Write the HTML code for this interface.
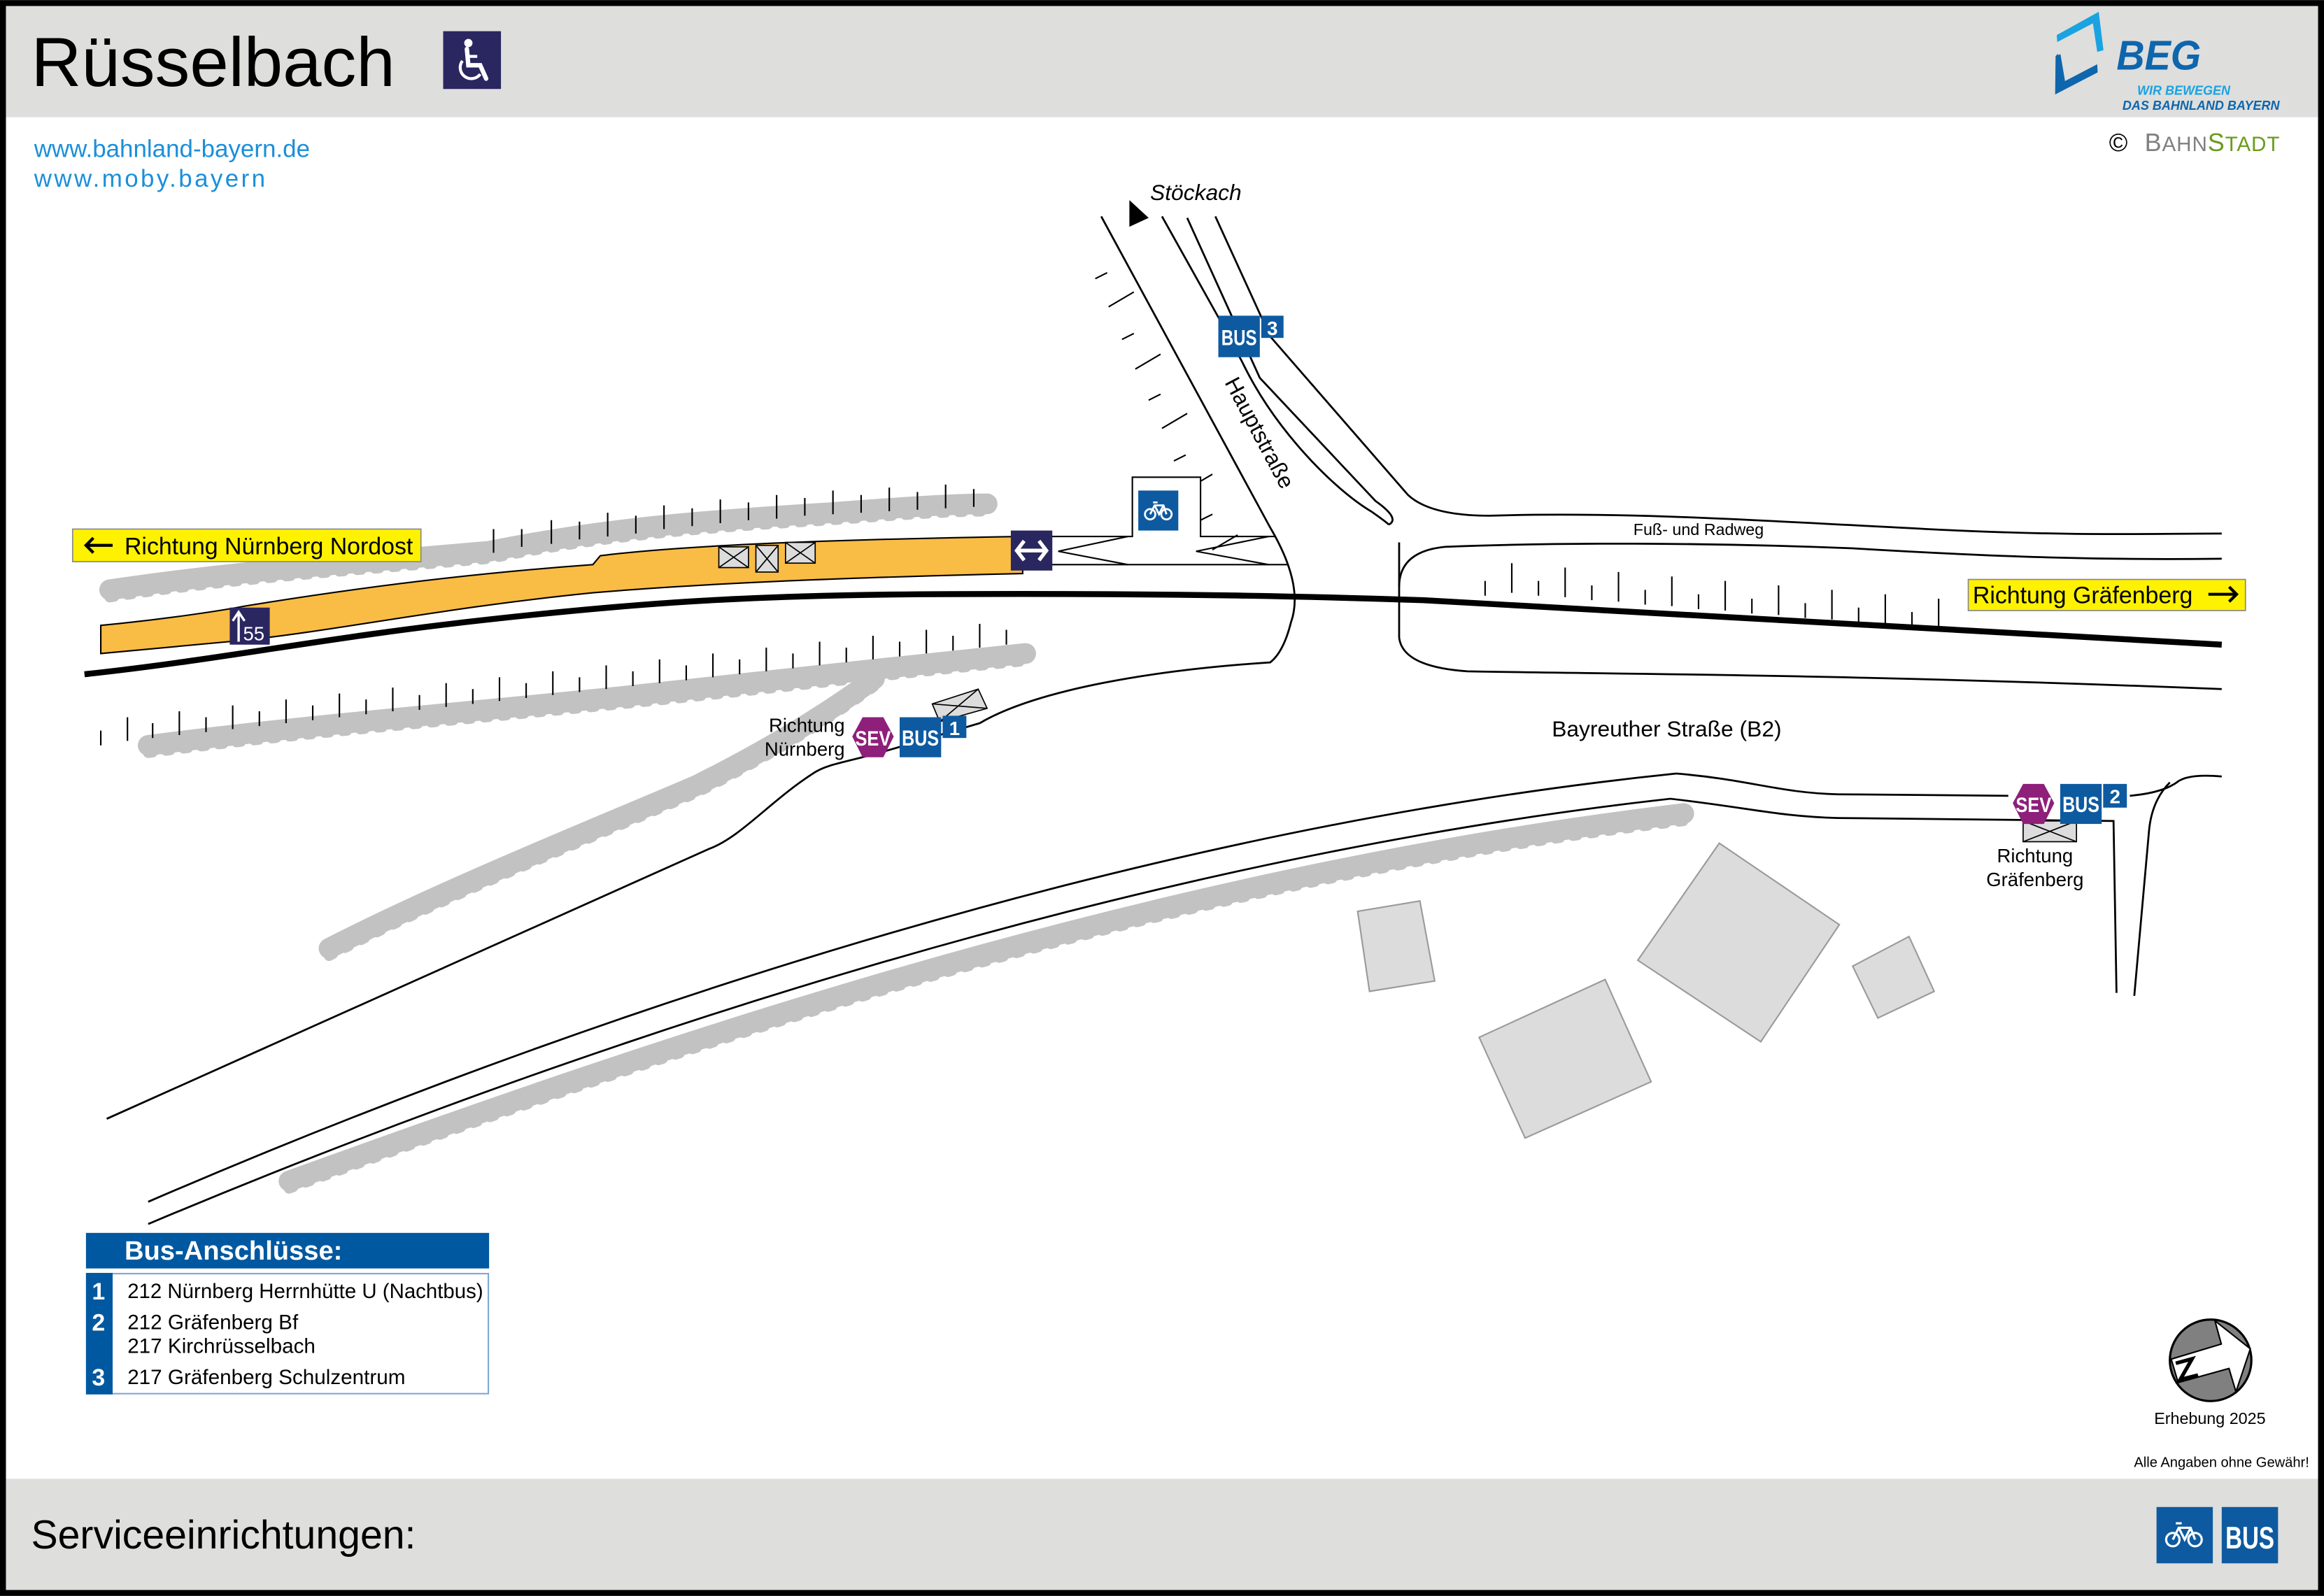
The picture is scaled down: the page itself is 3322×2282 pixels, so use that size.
<!DOCTYPE html>
<html><head><meta charset="utf-8">
<style>
html,body{margin:0;padding:0;background:#fff;}
svg{display:block;}
text{font-family:"Liberation Sans",Arial,sans-serif;}
</style></head>
<body>
<svg width="3322" height="2282" viewBox="0 0 1568 1077" xmlns="http://www.w3.org/2000/svg">
<rect x="0" y="0" width="1568" height="1077" fill="#fff"/>
<rect x="4" y="4" width="1560" height="75" fill="#dededd"/>
<rect x="4" y="998" width="1560" height="75" fill="#dededd"/>
<rect x="2" y="2" width="1564" height="1073" fill="none" stroke="#000" stroke-width="4"/>

<text x="21" y="58" font-size="47" fill="#000">Rüsselbach</text>
<rect x="299" y="21" width="39" height="39" fill="#2a2660"/>
<g fill="#fff" stroke="#fff">
<circle cx="316" cy="29" r="2.8" stroke="none"/>
<path d="M315 33 L316 44 L324 44 L328 53" fill="none" stroke-width="3" stroke-linecap="round"/>
<path d="M312 41 A7.5 7.5 0 1 0 324 50" fill="none" stroke-width="2"/>
<path d="M316 38 L322 38" stroke-width="2"/>
</g>
<text x="23" y="106" font-size="16.5" fill="#1b8fd9">www.bahnland-bayern.de</text>
<text x="23" y="126" font-size="16.5" fill="#1b8fd9" letter-spacing="1.6">www.moby.bayern</text>

<!-- BEG logo -->
<polygon points="1387.7,23.6 1416,7.9 1419.2,33.8 1415,35 1412.1,15.7 1388,28.3" fill="#1aa3e0"/>
<polygon points="1386.9,37.8 1388.5,36.2 1390.9,55.9 1415,43.3 1415.3,48.8 1386.6,63.7" fill="#0e66ad"/>
<polygon points="1386.9,37.8 1390.2,36.5 1393.5,56 1390.9,57" fill="#0e66ad"/>
<text x="1428" y="47" font-size="28" font-weight="bold" font-style="italic" fill="#0e66ad" textLength="57" lengthAdjust="spacingAndGlyphs">BEG</text>
<text x="1442" y="64" font-size="8.5" font-weight="bold" font-style="italic" fill="#1aa3e0">WIR BEWEGEN</text>
<text x="1432" y="74" font-size="8.5" font-weight="bold" font-style="italic" fill="#0e66ad">DAS BAHNLAND BAYERN</text>
<text x="1423" y="102" font-size="17" fill="#000">©</text>
<text x="1447" y="102" font-size="17" fill="#808080" textLength="91" lengthAdjust="spacing">B<tspan font-size="14">AHN</tspan><tspan fill="#6a9b1c" font-size="17">S</tspan><tspan fill="#6a9b1c" font-size="14">TADT</tspan></text>

<!-- trees -->
<g fill="none" stroke="#c2c2c2" stroke-width="14" stroke-linecap="round" stroke-linejoin="round">
<path d="M74 398 C160 385 240 380 330 372 C400 358 460 352 560 346 C600 343 640 340 666 340"/>
<path d="M100 503 C200 490 300 482 420 470 C520 460 600 450 692 441"/>
<path d="M222 640 C300 600 400 560 470 530 C520 505 560 480 590 458"/>
<path d="M195 797 C420 716 760 594 1136 549"/>
</g>
<g fill="none" stroke="#c2c2c2" stroke-width="7" stroke-linecap="round" stroke-dasharray="3 9" transform="translate(0,5)">
<path d="M74 398 C160 385 240 380 330 372 C400 358 460 352 560 346 C600 343 640 340 666 340"/>
<path d="M100 503 C200 490 300 482 420 470 C520 460 600 450 692 441"/>
<path d="M222 640 C300 600 400 560 470 530 C520 505 560 480 590 458"/>
<path d="M195 797 C420 716 760 594 1136 549"/>
</g>

<!-- tick marks -->
<g stroke="#000" stroke-width="1">
<path d="M333 373 v-16 M352 369 v-12 M372 367 v-16 M391 364 v-12 M410 362 v-16 M429 360 v-12 M448 357 v-16 M467 355 v-12 M486 353 v-16 M505 351 v-12 M524 350 v-16 M543 348 v-12 M562 347 v-16 M581 346 v-12 M600 345 v-16 M619 344 v-12 M638 343 v-16 M657 342 v-12"/>
<path d="M68 503 v-10 M86 500 v-16 M103 498 v-10 M121 496 v-16 M139 494 v-10 M157 492 v-16 M175 490 v-10 M193 488 v-16 M211 486 v-10 M229 484 v-16 M247 482 v-10 M265 480 v-16 M283 479 v-10 M301 477 v-16 M319 475 v-10 M337 473 v-16 M355 471 v-10 M373 469 v-16 M391 467 v-10 M409 465 v-16 M427 463 v-10 M445 461 v-16 M463 459 v-10 M481 457 v-16 M499 455 v-10 M517 453 v-16 M535 451 v-10 M553 449 v-16 M571 447 v-10 M589 445 v-16 M607 443 v-10 M625 441 v-16 M643 439 v-10 M661 437 v-16 M679 435 v-10"/>
<path d="M1002 402 v-10 M1020 400 v-20 M1038 402 v-10 M1056 403 v-20 M1074 405 v-10 M1092 406 v-20 M1110 408 v-10 M1128 409 v-20 M1146 411 v-10 M1164 412 v-20 M1182 414 v-10 M1200 415 v-20 M1218 417 v-10 M1236 418 v-20 M1254 420 v-10 M1272 421 v-20 M1290 423 v-10 M1308 424 v-20"/>
<path d="M739 188 l8 -4 M748 207 l17 -10 M757 229 l8 -4 M766 249 l17 -10 M775 270 l8 -4 M784 289 l17 -10 M792 311 l8 -4 M801 330 l17 -10 M810 351 l8 -4 M818 371 l17 -10"/>
</g>

<!-- roads -->
<g fill="none" stroke="#000" stroke-width="1.3">
<path d="M743 146 L857 356 Q880 395 871 420 Q866 440 857 447 C780 452 700 465 661 488 L607 504 C570 515 560 515 550 521 C520 540 500 565 478 573 L72 755"/>
<path d="M784 146 L822 214 L838 244 C860 290 900 330 925 345 Q935 352 937 354"/>
<path d="M801 147 L850 255 L928 338 Q945 350 937 354"/>
<path d="M820 146 L857 227 L950 334 Q965 348 1005 348 C1100 345 1200 352 1300 357 C1400 362 1450 360 1499 360"/>
<path d="M944 366 Q944 380 944 390 L944 430 Q946 450 990 453 C1100 455 1250 455 1499 465"/>
<path d="M944 396 Q944 372 975 369 C1050 366 1150 366 1250 370 C1350 376 1420 378 1499 377"/>
<path d="M100 811 C380 690 760 560 1131 522 C1180 526 1200 535 1240 536 L1355 537 M1437 537 Q1460 535 1470 527 Q1478 522 1499 524"/>
<path d="M100 826 C380 708 760 580 1127 539 C1180 545 1200 551 1240 552 L1426 554 L1428 670"/>
<path d="M1464 528 Q1452 540 1450 560 L1440 672"/>
</g>

<!-- buildings -->
<g fill="#dcdcdc" stroke="#9a9a9a" stroke-width="1">
<polygon points="916,615 958,608 968,662 924,669"/>
<polygon points="1105,648 1160,569 1241,624 1188,703"/>
<polygon points="998,700 1083,661 1114,730 1029,768"/>
<polygon points="1250,652 1288,632 1305,669 1267,687"/>
</g>

<!-- platform -->
<path d="M68 422 C110 418 150 412 165 409 C250 395 330 386 400 381 L405 375 C460 368 560 364 690 362 L690 387 C560 390 470 394 400 400 C300 410 230 425 165 432 L68 441 Z" fill="#f9bc45" stroke="#000" stroke-width="1"/>
<path d="M57 455 C150 445 220 430 330 418 C430 407 500 402 620 401 C800 400 900 403 960 405 L1499 435" fill="none" stroke="#000" stroke-width="4"/>

<!-- ticket machines -->
<g fill="#dcdcdc" stroke="#000" stroke-width="0.8">
<rect x="485" y="369" width="20" height="14"/><path d="M485 369 L505 383 M505 369 L485 383"/>
<rect x="510" y="368" width="15" height="18"/><path d="M510 368 L525 386 M525 368 L510 386"/>
<rect x="530" y="366" width="20" height="14"/><path d="M530 366 L550 380 M550 366 L530 380"/>
<polygon points="629,475 660,465 666,478 634,487"/><path d="M629 475 L666 478 M660 465 L634 487"/>
<rect x="1365" y="554" width="36" height="14"/><path d="M1365 554 L1401 568 M1401 554 L1365 568"/>
</g>

<!-- passage & bike -->
<g fill="#fff" stroke="#000" stroke-width="1">
<path d="M709 362 L764 362 L764 322 L810 322 L810 362 L861 362 M709 381 L869 381"/>
<path d="M761 362 L714 372 L761 381 M856 362 L807 372 L856 381" fill="none"/>
</g>
<rect x="768" y="331" width="27" height="27" fill="#0e5aa0"/>
<g fill="none" stroke="#fff" stroke-width="1.3"><circle cx="776" cy="347" r="3.5"/><circle cx="787" cy="347" r="3.5"/><path d="M776 347 L779 341 L785 341 L787 347 M779 341 L782 347 L785 341 M778 339 h3"/></g>
<rect x="682" y="358" width="28" height="27" fill="#2a2660"/>
<path d="M686 371.5 H706 M691 365 L686 371.5 L691 378 M701 365 L706 371.5 L701 378" fill="none" stroke="#fff" stroke-width="2.5"/>
<rect x="155" y="410" width="27" height="25" fill="#2a2660"/>
<path d="M161 433 V414 M157 419 L161 413 L165 419" stroke="#fff" stroke-width="1.6" fill="none"/>
<text x="164" y="432" font-size="13" fill="#fff">55</text>

<!-- signs -->
<rect x="49" y="357" width="235" height="22" fill="#fff200" stroke="#888" stroke-width="0.8"/>
<path d="M58 368 H76 M63 363 L58 368 L63 373" stroke="#000" stroke-width="2" fill="none"/>
<text x="84" y="374" font-size="16" fill="#000">Richtung Nürnberg Nordost</text>
<rect x="1328" y="391" width="187" height="21" fill="#fff200" stroke="#888" stroke-width="0.8"/>
<text x="1331" y="407" font-size="16" fill="#000">Richtung Gräfenberg</text>
<path d="M1490 401 H1509 M1504 396 L1509 401 L1504 406" stroke="#000" stroke-width="2" fill="none"/>

<!-- labels -->
<polygon points="762,135 775,147 762,153" fill="#000"/>
<text x="776" y="135" font-size="15" font-style="italic">Stöckach</text>
<text x="0" y="0" font-size="15" transform="translate(826,258) rotate(62)">Hauptstraße</text>
<text x="1102" y="361" font-size="11">Fuß- und Radweg</text>
<text x="1047" y="497" font-size="15">Bayreuther Straße (B2)</text>
<text x="570" y="494" font-size="13" text-anchor="end">Richtung</text>
<text x="570" y="510" font-size="13" text-anchor="end">Nürnberg</text>
<text x="1373" y="582" font-size="13" text-anchor="middle">Richtung</text>
<text x="1373" y="598" font-size="13" text-anchor="middle">Gräfenberg</text>

<!-- bus stops -->
<rect x="822" y="213" width="28" height="28" fill="#0e5aa0"/><text x="836" y="233" font-size="15" font-weight="bold" fill="#fff" text-anchor="middle" textLength="24" lengthAdjust="spacingAndGlyphs">BUS</text>
<rect x="851" y="213" width="15" height="15" fill="#0e5aa0"/><text x="858.5" y="226" font-size="13" font-weight="bold" fill="#fff" text-anchor="middle">3</text>

<polygon points="582,484 596,484 603,497 596,511 582,511 575,497" fill="#8e1f7a"/>
<text x="589" y="503" font-size="14" font-weight="bold" fill="#fff" text-anchor="middle" textLength="24" lengthAdjust="spacingAndGlyphs">SEV</text>
<rect x="607" y="484" width="28" height="27" fill="#0e5aa0"/><text x="621" y="503" font-size="15" font-weight="bold" fill="#fff" text-anchor="middle" textLength="25" lengthAdjust="spacingAndGlyphs">BUS</text>
<rect x="636" y="483" width="16" height="15" fill="#0e5aa0"/><text x="644" y="496" font-size="13" font-weight="bold" fill="#fff" text-anchor="middle">1</text>

<polygon points="1365,529 1379,529 1386,542 1379,556 1365,556 1358,542" fill="#8e1f7a"/>
<text x="1372" y="548" font-size="14" font-weight="bold" fill="#fff" text-anchor="middle" textLength="24" lengthAdjust="spacingAndGlyphs">SEV</text>
<rect x="1390" y="529" width="28" height="27" fill="#0e5aa0"/><text x="1404" y="548" font-size="15" font-weight="bold" fill="#fff" text-anchor="middle" textLength="25" lengthAdjust="spacingAndGlyphs">BUS</text>
<rect x="1419" y="529" width="16" height="16" fill="#0e5aa0"/><text x="1427" y="542" font-size="13" font-weight="bold" fill="#fff" text-anchor="middle">2</text>

<!-- legend -->
<rect x="58" y="832" width="272" height="24" fill="#0058a0"/>
<text x="84" y="850" font-size="18" font-weight="bold" fill="#fff">Bus-Anschlüsse:</text>
<rect x="58.5" y="859.5" width="271" height="81" fill="#fff" stroke="#7fa8d4" stroke-width="1"/>
<rect x="58" y="859" width="18" height="82" fill="#0058a0"/>
<g font-size="16" font-weight="bold" fill="#fff"><text x="62" y="877">1</text><text x="62" y="898">2</text><text x="62" y="935">3</text></g>
<g font-size="14" fill="#000">
<text x="86" y="876" textLength="240" lengthAdjust="spacingAndGlyphs">212 Nürnberg Herrnhütte U (Nachtbus)</text>
<text x="86" y="897">212 Gräfenberg Bf</text>
<text x="86" y="913">217 Kirchrüsselbach</text>
<text x="86" y="934">217 Gräfenberg Schulzentrum</text>
</g>

<!-- compass -->
<circle cx="1491.5" cy="918" r="27.5" fill="#808080" stroke="#000" stroke-width="1.5"/>
<polygon points="1464.9,917.2 1498.7,907 1494.4,891.3 1518.3,910.2 1508.6,939.3 1503.9,923.5 1469.6,933" fill="#fff" stroke="#000" stroke-width="1"/>
<path d="M1468 920 L1479 917 L1471 931 L1483 928" fill="none" stroke="#000" stroke-width="2.5"/>
<text x="1491" y="961" font-size="11" text-anchor="middle">Erhebung 2025</text>
<text x="1558" y="990" font-size="9.5" text-anchor="end">Alle Angaben ohne Gewähr!</text>

<!-- footer -->
<text x="21" y="1045" font-size="27" fill="#000">Serviceeinrichtungen:</text>
<rect x="1455" y="1017" width="38" height="38" fill="#0e5aa0"/>
<g fill="none" stroke="#fff" stroke-width="1.5"><circle cx="1466" cy="1039" r="4.5"/><circle cx="1481" cy="1039" r="4.5"/><path d="M1466 1039 L1470 1031 L1478 1031 L1481 1039 M1470 1031 L1474 1039 L1478 1031 M1468 1028 h4"/></g>
<rect x="1499" y="1017" width="38" height="38" fill="#0e5aa0"/>
<text x="1518" y="1045" font-size="21" font-weight="bold" fill="#fff" text-anchor="middle" textLength="33" lengthAdjust="spacingAndGlyphs">BUS</text>
</svg>
</body></html>
